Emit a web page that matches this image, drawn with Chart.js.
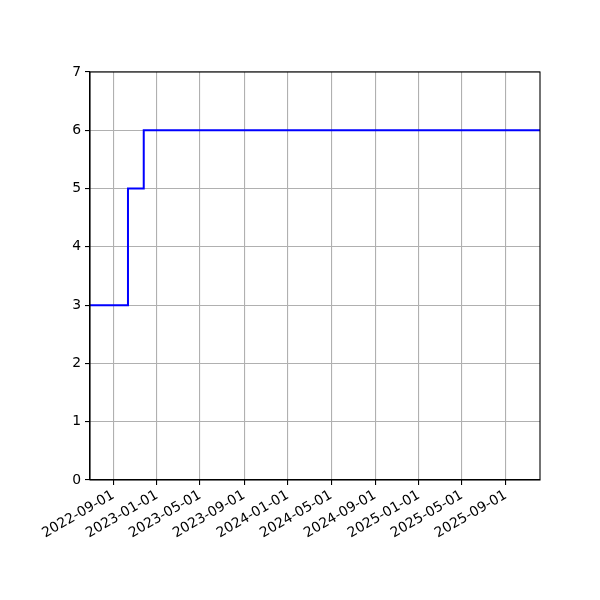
<!DOCTYPE html>
<html>
<head>
<meta charset="utf-8">
<script src="https://cdn.jsdelivr.net/npm/chart.js@4/dist/chart.umd.min.js"></script>
<style>
  html, body { margin: 0; padding: 0; background: #fff; }
  #wrap { width: 600px; height: 600px; }
</style>
</head>
<body>
<div id="wrap"><canvas id="myChart" width="600" height="600"></canvas></div>
<script>
// step series: dates where value changes, and the values
var stepDates = ['2022-06-28', '2022-10-12', '2022-11-25', '2025-12-05'];
var stepValues = [3, 5, 6, 6];
var xTickDates = ['2022-09-01', '2023-01-01', '2023-05-01', '2023-09-01', '2024-01-01',
                  '2024-05-01', '2024-09-01', '2025-01-01', '2025-05-01', '2025-09-01'];
var yTicks = [0, 1, 2, 3, 4, 5, 6, 7];
var xMin = '2022-06-28';
var xMax = '2025-12-05';

function toMs(s) {
    var p = s.split('-');
    return Date.UTC(+p[0], +p[1] - 1, +p[2]);
}
function fmt(ms) {
    var d = new Date(ms);
    var m = d.getUTCMonth() + 1, day = d.getUTCDate();
    return d.getUTCFullYear() + '-' + (m < 10 ? '0' : '') + m + '-' + (day < 10 ? '0' : '') + day;
}

var points = stepDates.map(function (d, i) { return { x: toMs(d), y: stepValues[i] }; });

// full box around the axes, like matplotlib spines
var frame = {
    id: 'frame',
    afterDraw: function (chart) {
        var a = chart.chartArea, c = chart.ctx;
        c.save();
        c.strokeStyle = '#000';
        c.lineWidth = 1.1;
        c.strokeRect(a.left, a.top, a.right - a.left, a.bottom - a.top);
        c.restore();
    }
};

var font = { family: 'DejaVu Sans', size: 13.9 };

var ctx = document.getElementById('myChart');
var myChart = new Chart(ctx, {
    type: 'line',
    data: {
        datasets: [{
            data: points,
            borderColor: '#0000ff',
            borderWidth: 2,
            pointRadius: 0,
            stepped: 'before',
            fill: false
        }]
    },
    options: {
        responsive: false,
        animation: false,
        layout: { padding: { left: 0, right: 60, top: 72, bottom: 0 } },
        plugins: { legend: { display: false }, tooltip: { enabled: false } },
        scales: {
            x: {
                type: 'linear',
                min: toMs(xMin),
                max: toMs(xMax),
                afterBuildTicks: function (s) {
                    s.ticks = xTickDates.map(function (d) { return { value: toMs(d) }; });
                },
                afterFit: function (s) { s.height = 120; },
                ticks: {
                    autoSkip: false,
                    maxRotation: 30,
                    minRotation: 30,
                    padding: 2,
                    color: '#000',
                    font: font,
                    callback: function (v) { return fmt(v); }
                },
                grid: {
                    color: '#b0b0b0',
                    lineWidth: 1.1,
                    tickColor: '#000',
                    tickLength: 5
                },
                border: { color: '#000', width: 1.1 }
            },
            y: {
                min: 0,
                max: 7,
                afterBuildTicks: function (s) {
                    s.ticks = yTicks.map(function (v) { return { value: v }; });
                },
                afterFit: function (s) { s.width = 90; },
                ticks: {
                    padding: 4,
                    color: '#000',
                    font: font
                },
                grid: {
                    color: '#b0b0b0',
                    lineWidth: 1.1,
                    tickColor: '#000',
                    tickLength: 5
                },
                border: { color: '#000', width: 1.1 }
            }
        }
    },
    plugins: [frame]
});
</script>
</body>
</html>
